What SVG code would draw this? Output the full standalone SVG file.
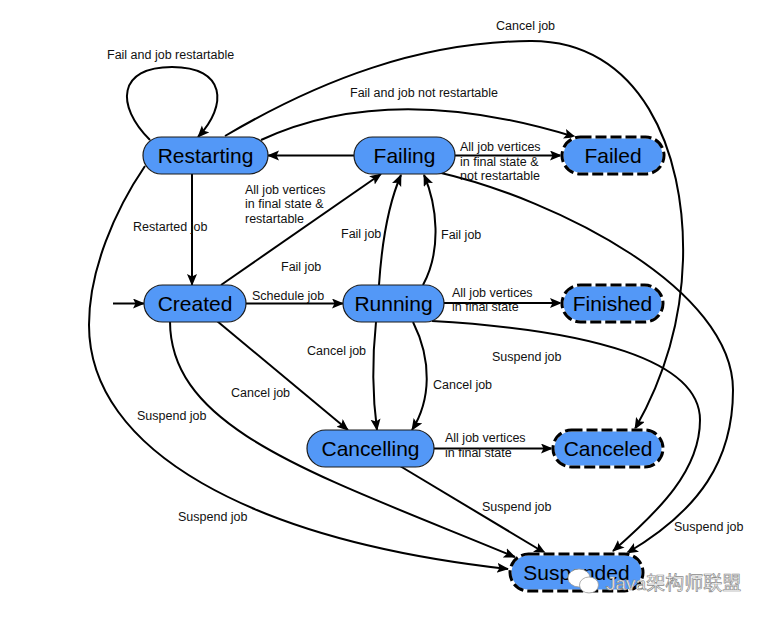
<svg xmlns="http://www.w3.org/2000/svg" width="767" height="617" viewBox="0 0 767 617">
<style>
.node rect{fill:#5398F7;stroke:#1a1a1a;stroke-width:1.2}
.final rect.bg{fill:#5398F7;stroke:#ffffff;stroke-width:3}
.final rect.fg{fill:none;stroke:#000;stroke-width:3;stroke-dasharray:11 4}
.nt{font-family:"Liberation Sans",Arial,sans-serif;font-size:21px;fill:#000;text-anchor:middle}
.lb{font-family:"Liberation Sans",Arial,sans-serif;font-size:12.5px;fill:#111}
#edges path{fill:none;stroke:#000;stroke-width:2;marker-end:url(#arr)}
.wm{font-family:"Liberation Sans","Noto Sans CJK SC",sans-serif;font-size:19px;fill:#fff;stroke:#8a8a8a;stroke-width:0.7}
</style>
<defs>
<marker id="arr" markerUnits="userSpaceOnUse" markerWidth="13" markerHeight="11" refX="11" refY="5" orient="auto">
<path d="M0,0 L12,5 L0,10 L2.5,5 z" fill="#000"/>
</marker>
</defs>
<rect width="767" height="617" fill="#fff"/>
<g id="edges">
<path d="M150,140 C115,105 118,67 172,67 C226,67 228,105 198,137"/>
<path d="M225,136 C320,80 420,42 530,41 C640,40 686,150 683,260 C681,330 660,385 635,429"/>
<path d="M261,140 Q390,80 575,137"/>
<path d="M354,155.5 L268,155.5"/>
<path d="M455,155.5 L561,155.5"/>
<path d="M437,172 C560,200 733,290 733,390 C733,460 700,510 627,553"/>
<path d="M379,285 C382,240 390,200 401,175"/>
<path d="M423,285 C442,250 437,205 424,175"/>
<path d="M221,285 L381,174"/>
<path d="M192,174 L192,285"/>
<path d="M113,303.5 L144,303.5"/>
<path d="M246,303.5 L343,303.5"/>
<path d="M444,303 L561,303"/>
<path d="M376,322 C372,360 373,400 377,430"/>
<path d="M413,322 C432,360 431,400 412,430"/>
<path d="M432,321 C590,330 700,360 700,420 C700,470 660,510 613,551"/>
<path d="M217,321 L348,430"/>
<path d="M434,448.5 L552,448.5"/>
<path d="M400,466 L545,553"/>
<path d="M170,321 C170,430 315,474 515,557"/>
<path d="M145,166 C115,210 89,270 89,325 C89,450 250,540 508,569"/>
</g>
<g id="labels">
<text class="lb" x="107" y="59">Fail and job restartable</text>
<text class="lb" x="496" y="30">Cancel job</text>
<text class="lb" x="350" y="97">Fail and job not restartable</text>
<text class="lb" x="460" y="150.5">All job vertices</text>
<text class="lb" x="460" y="165.5">in final state &amp;</text>
<text class="lb" x="460" y="180">not restartable</text>
<text class="lb" x="245" y="193.5">All job vertices</text>
<text class="lb" x="245" y="208">in final state &amp;</text>
<text class="lb" x="245" y="223">restartable</text>
<text class="lb" x="133" y="231">Restarted job</text>
<text class="lb" x="281" y="271">Fail job</text>
<text class="lb" x="341" y="238">Fail job</text>
<text class="lb" x="441" y="239">Fail job</text>
<text class="lb" x="252" y="300">Schedule job</text>
<text class="lb" x="452" y="297">All job vertices</text>
<text class="lb" x="452" y="311">in final state</text>
<text class="lb" x="307" y="354.5">Cancel job</text>
<text class="lb" x="433" y="388.5">Cancel job</text>
<text class="lb" x="492" y="360.5">Suspend job</text>
<text class="lb" x="445" y="442">All job vertices</text>
<text class="lb" x="445" y="457">in final state</text>
<text class="lb" x="231" y="397">Cancel job</text>
<text class="lb" x="137" y="420">Suspend job</text>
<text class="lb" x="178" y="521">Suspend job</text>
<text class="lb" x="482" y="511">Suspend job</text>
<text class="lb" x="674" y="531">Suspend job</text>
</g>
<g id="n-restarting" class="node"><rect x="143" y="137" width="125" height="37" rx="18.5"/><text class="nt" x="205.5" y="163">Restarting</text></g>
<g id="n-failing" class="node"><rect x="354" y="137" width="101" height="37" rx="18.5"/><text class="nt" x="404.5" y="163">Failing</text></g>
<g id="n-failed" class="final"><rect class="bg" x="562" y="137" width="102" height="37" rx="18.5"/><rect class="fg" x="562" y="137" width="102" height="37" rx="18.5"/><text class="nt" x="613" y="163">Failed</text></g>
<g id="n-created" class="node"><rect x="144" y="285" width="102" height="37" rx="18.5"/><text class="nt" x="195" y="311">Created</text></g>
<g id="n-running" class="node"><rect x="343" y="285" width="101" height="37" rx="18.5"/><text class="nt" x="393.5" y="311">Running</text></g>
<g id="n-finished" class="final"><rect class="bg" x="562" y="285" width="101" height="37" rx="18.5"/><rect class="fg" x="562" y="285" width="101" height="37" rx="18.5"/><text class="nt" x="612.5" y="311">Finished</text></g>
<g id="n-cancelling" class="node"><rect x="307" y="430" width="127" height="37" rx="18.5"/><text class="nt" x="370.5" y="456">Cancelling</text></g>
<g id="n-canceled" class="final"><rect class="bg" x="553" y="430" width="110" height="37" rx="18.5"/><rect class="fg" x="553" y="430" width="110" height="37" rx="18.5"/><text class="nt" x="608" y="456">Canceled</text></g>
<g id="n-suspended" class="final"><rect class="bg" x="510" y="554" width="133" height="37" rx="18.5"/><rect class="fg" x="510" y="554" width="133" height="37" rx="18.5"/><text class="nt" x="576.5" y="580">Suspended</text></g>
<g id="watermark">
<ellipse cx="579" cy="578" rx="11" ry="9" fill="#fff" stroke="#9a9a9a" stroke-width="0.8"/>
<ellipse cx="589" cy="585" rx="9.5" ry="8" fill="#fff" stroke="#9a9a9a" stroke-width="0.8"/>
<text class="wm" x="606" y="590">Java架构师联盟</text>
</g>
</svg>
